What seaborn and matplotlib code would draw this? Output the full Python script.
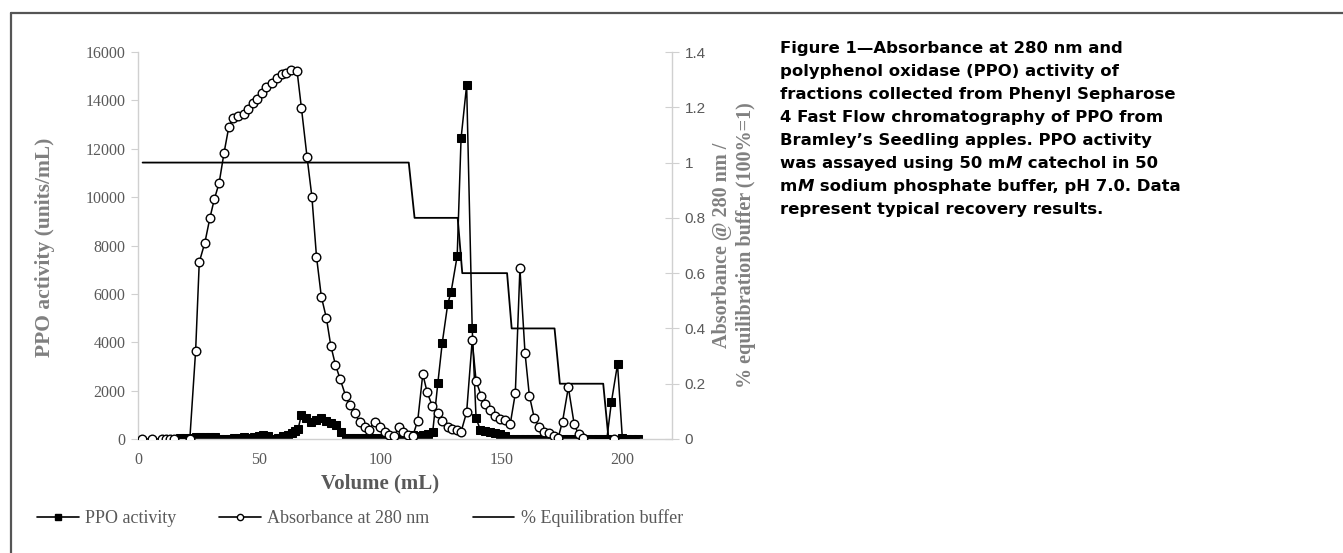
import matplotlib
matplotlib.use("Agg")
import matplotlib.pyplot as plt
from matplotlib.lines import Line2D
import seaborn as sns
import pandas as pd

# ---------------- data ----------------
abs_x = [1.6, 5.6, 9.8, 11.5, 13.2, 15.0, 21.4, 23.8, 25.3, 27.6, 29.7, 31.5, 33.5, 35.5,
         37.5, 39.3, 41.4, 43.7, 45.5, 47.5, 49.2, 51.2, 53.0, 55.4, 57.4, 59.5, 61.3,
         63.3, 65.7, 67.5, 69.8, 71.8, 73.7, 75.7, 77.8, 79.6, 81.5, 83.5, 85.7, 87.4,
         89.7, 91.5, 93.6, 95.3, 97.7, 99.8, 101.8, 103.8, 105.8, 107.7, 109.5, 111.5,
         113.5, 115.5, 117.6, 119.4, 121.5, 123.8, 125.6, 127.9, 129.7, 131.6, 133.4,
         135.7, 138.0, 139.6, 141.7, 143.4, 145.5, 147.4, 149.5, 151.7, 153.7, 155.8,
         157.7, 159.8, 161.6, 163.6, 165.7, 167.8, 169.8, 171.6, 173.5, 175.3, 177.7,
         180.1, 181.9, 183.8, 196.6]
abs_y = [0, 0, 0, 0, 0, 0, 0, 0.32, 0.64, 0.71, 0.80, 0.867, 0.926, 1.034,
         1.129, 1.162, 1.168, 1.177, 1.193, 1.215, 1.230, 1.251, 1.272, 1.289, 1.305, 1.319, 1.325,
         1.335, 1.330, 1.196, 1.020, 0.877, 0.66, 0.515, 0.437, 0.338, 0.269, 0.216, 0.157, 0.123,
         0.093, 0.060, 0.042, 0.033, 0.063, 0.042, 0.026, 0.015, 0.010, 0.042, 0.026, 0.015,
         0.012, 0.066, 0.235, 0.169, 0.120, 0.095, 0.066, 0.045, 0.036, 0.033, 0.026,
         0.097, 0.358, 0.210, 0.157, 0.127, 0.105, 0.084, 0.072, 0.069, 0.054, 0.165,
         0.617, 0.312, 0.157, 0.077, 0.042, 0.026, 0.023, 0.010, 0.005, 0.063, 0.187,
         0.054, 0.017, 0.005, 0.0]

ppo_x = [17.5, 19.5, 21.7, 23.8, 25.8, 27.8, 29.8, 31.8, 33.8, 35.8, 37.8, 39.8, 41.8, 43.8,
         45.8, 47.8, 49.8, 51.8, 53.8, 55.8, 57.8, 59.8, 61.8, 63.5, 64.7, 66.1, 67.5, 69.5,
         71.6, 73.7, 75.7, 77.8, 79.8, 81.8, 83.8, 85.8, 87.8, 89.8, 91.8, 93.8, 95.8, 97.8,
         99.8, 101.8, 103.8, 105.8, 107.8, 109.8, 111.8, 113.5, 115.5, 117.5, 119.6, 121.7,
         123.8, 125.6, 127.9, 129.3, 131.8, 133.4, 135.7, 138.0, 139.6, 141.4, 143.4, 145.5,
         147.4, 149.5, 151.7, 153.7, 155.8, 157.8, 159.8, 161.8, 163.8, 165.8, 167.8, 169.8,
         171.8, 173.8, 175.8, 177.8, 179.8, 181.8, 183.8, 185.8, 187.8, 189.8, 191.8, 193.6,
         195.5, 198.0, 200.0, 202.0, 204.0, 206.5]
ppo_y = [30, 40, 50, 70, 90, 100, 90, 70, 20, 10, 20, 30, 50, 70,
         50, 80, 110, 170, 110, 20, 60, 120, 180, 240, 330, 420, 1000, 860,
         720, 800, 870, 740, 680, 560, 300, 60, 50, 40, 50, 40, 30, 50,
         40, 30, 40, 20, 30, 60, 80, 160, 120, 150, 200, 300,
         2300, 3950, 5580, 6090, 7565, 12430, 14630, 4575, 855, 370, 320, 280,
         240, 200, 140, 20, 0, 0, 0, 0, 0, 0, 0, 0,
         0, 0, 0, 0, 0, 0, 0, 0, 0, 0, 0, 0,
         1540, 3090, 30, 0, 0, 0]

eq_x = [1.9, 111.8, 114.2, 132.0, 133.9, 152.4, 154.3, 172.0, 174.2, 192.1, 194.3, 207.0]
eq_y = [1, 1, 0.8, 0.8, 0.6, 0.6, 0.4, 0.4, 0.2, 0.2, 0, 0]

x_ticks = [0, 50, 100, 150, 200]
left_ticks = [0, 2000, 4000, 6000, 8000, 10000, 12000, 14000, 16000]
right_ticks = [0, 0.2, 0.4, 0.6, 0.8, 1.0, 1.2, 1.4]
right_labels = ["0", "0.2", "0.4", "0.6", "0.8", "1", "1.2", "1.4"]

legend_labels = ["PPO activity", "Absorbance at 280 nm", "% Equilibration buffer"]
caption_lines = [
    [("Figure 1\u2014Absorbance at 280 nm and", "normal")],
    [("polyphenol oxidase (PPO) activity of", "normal")],
    [("fractions collected from Phenyl Sepharose", "normal")],
    [("4 Fast Flow chromatography of PPO from", "normal")],
    [("Bramley\u2019s Seedling apples. PPO activity", "normal")],
    [("was assayed using 50 m", "normal"), ("M", "italic"), (" catechol in 50", "normal")],
    [("m", "normal"), ("M", "italic"), (" sodium phosphate buffer, pH 7.0. Data", "normal")],
    [("represent typical recovery results.", "normal")],
]

# ---------------- style ----------------
sns.set_style("white")
plt.rcParams["font.family"] = ["Liberation Serif", "DejaVu Serif"]

W, H = 1343, 553
fig = plt.figure(figsize=(W / 100, H / 100), dpi=100)
L, R, T, B = 138, 672, 52, 439
ax = fig.add_axes([L / W, 1 - B / H, (R - L) / W, (B - T) / H])
ax2 = ax.twinx()

gray_txt = "#595959"
axis_gray = "#d0d0d0"

df_ppo = pd.DataFrame({"x": ppo_x, "y": ppo_y})
df_abs = pd.DataFrame({"x": abs_x, "y": abs_y})
df_eq = pd.DataFrame({"x": eq_x, "y": eq_y})

sns.lineplot(data=df_ppo, x="x", y="y", ax=ax, color="black", marker="s", markersize=5.5,
             markeredgecolor="black", linewidth=1.1, sort=False, estimator=None)
sns.lineplot(data=df_eq, x="x", y="y", ax=ax2, color="black", linewidth=1.3,
             sort=False, estimator=None)
sns.lineplot(data=df_abs, x="x", y="y", ax=ax2, color="black", marker="o", markersize=6.2,
             markerfacecolor="white", markeredgecolor="black", markeredgewidth=1.0,
             linewidth=1.1, sort=False, estimator=None)

ax.set_xlim(0, 220.5)
ax.set_ylim(0, 16000)
ax2.set_ylim(0, 1.4)
ax.set_xticks(x_ticks)
ax.set_xticklabels([str(v) for v in x_ticks])
ax.set_yticks(left_ticks)
ax.set_yticklabels([str(v) for v in left_ticks])
ax2.set_yticks(right_ticks)
ax2.set_yticklabels(right_labels, family=["Liberation Sans", "DejaVu Sans"])

for s in ["top", "right"]:
    ax.spines[s].set_visible(False)
for s in ["top", "left", "bottom"]:
    ax2.spines[s].set_visible(False)
ax.spines["left"].set_color(axis_gray)
ax.spines["bottom"].set_color(axis_gray)
ax2.spines["right"].set_color(axis_gray)
for sp in [ax.spines["left"], ax.spines["bottom"], ax2.spines["right"]]:
    sp.set_linewidth(1.0)

ax.tick_params(axis="y", direction="out", length=5, color=axis_gray, labelsize=11.5,
               labelcolor=gray_txt, pad=4)
ax.tick_params(axis="x", length=0, labelsize=11.5, labelcolor=gray_txt, pad=9)
ax2.tick_params(axis="y", direction="inout", length=10, color=axis_gray, labelsize=11,
                labelcolor=gray_txt, pad=4)

ax.set_xlabel("Volume (mL)", fontsize=15, fontweight="bold", color=gray_txt)
ax.xaxis.set_label_coords((380 - L) / (R - L), -(483 - B) / (B - T))
ax.xaxis.label.set_va("center")
ax.set_ylabel("PPO activity (units/mL)", fontsize=15.5, fontweight="bold", color="#808080")
ax.yaxis.set_label_coords(-(L - 45) / (R - L), (B - 247) / (B - T))
ax.yaxis.label.set_va("center")
ax2.set_ylabel("Absorbance @ 280 nm /\n% equilibration buffer (100%=1)", fontsize=14.5,
               fontweight="bold", color="#808080", linespacing=1.2)
ax2.yaxis.set_label_coords(1 + (734 - R) / (R - L), (B - 245) / (B - T))
ax2.yaxis.label.set_va("center")
if ax.get_legend():
    ax.get_legend().remove()
if ax2.get_legend():
    ax2.get_legend().remove()

# legend
handles = [
    Line2D([], [], color="black", marker="s", markersize=5, linewidth=1.2),
    Line2D([], [], color="black", marker="o", markersize=4.5, markerfacecolor="white",
           linewidth=1.2),
    Line2D([], [], color="black", linewidth=1.2),
]
fig.legend(handles, legend_labels, loc="center", bbox_to_anchor=(360 / W, 1 - 518 / H),
           ncol=3, frameon=False, fontsize=13, handlelength=2.3, handletextpad=0.35,
           columnspacing=2.4, labelcolor=gray_txt)

# frame lines
fig.add_artist(Line2D([11 / W, 1], [1 - 13 / H, 1 - 13 / H], color="#555555", linewidth=1.6,
                      transform=fig.transFigure))
fig.add_artist(Line2D([11 / W, 11 / W], [1 - 13 / H, 0], color="#555555", linewidth=1.6,
                      transform=fig.transFigure))

# caption
renderer = fig.canvas.get_renderer()
x0 = 780
y_first = 48
pitch = 23.1
for i, pieces in enumerate(caption_lines):
    xpos = x0
    ypix = y_first + i * pitch
    for txt, style in pieces:
        t = fig.text(xpos / W, 1 - ypix / H, txt, fontsize=11.85, fontweight="bold",
                     fontstyle=style, family=["DejaVu Sans"],
                     color="black", va="center", ha="left")
        bb = t.get_window_extent(renderer=renderer)
        xpos = bb.x1

fig.savefig("out.png", dpi=100)
